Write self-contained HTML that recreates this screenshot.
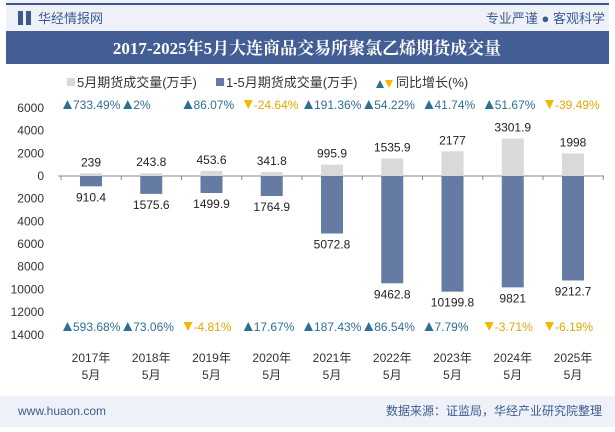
<!DOCTYPE html>
<html><head><meta charset="utf-8"><style>
body{margin:0;width:615px;height:427px;overflow:hidden;background:#fff;font-family:"Liberation Sans","Noto Sans CJK SC",sans-serif;}
</style></head><body>
<svg width="615" height="427" xmlns="http://www.w3.org/2000/svg" font-family="Liberation Sans, Noto Sans CJK SC, sans-serif">
<rect x="6" y="0" width="603" height="33" fill="#eef2f8"/>
<rect x="6" y="3" width="603" height="2" fill="#3d5a8f"/>
<rect x="18" y="11" width="5" height="14" fill="#3d5a8f"/><rect x="26" y="11" width="5" height="14" fill="#3d5a8f"/>
<text x="38" y="23" font-size="13" fill="#3d5a8f">华经情报网</text>
<text x="605" y="23" font-size="13" fill="#3d5a8f" text-anchor="end">专业严谨 ● 客观科学</text>
<rect x="6" y="31" width="603" height="33" fill="#435e94"/>
<text x="307" y="54" font-size="17" font-weight="bold" fill="#fff" text-anchor="middle" font-family="Liberation Serif, Noto Serif CJK SC, serif">2017-2025年5月大连商品交易所聚氯乙烯期货成交量</text>
<g font-size="13" fill="#333">
<rect x="67" y="78" width="8" height="8" fill="#d9d9d9"/><text x="77" y="87">5月期货成交量(万手)</text>
<rect x="216" y="78" width="8" height="8" fill="#667ba3"/><text x="226" y="87">1-5月期货成交量(万手)</text>
<path d="M376,88 l4,-8 l4,8z" fill="#2e6f94"/><path d="M385,80 l4,8 l4,-8z" fill="#f5b800"/><text x="396" y="87">同比增长(%)</text>
</g>
<g id="axis" font-size="12" fill="#333"></g>
<g id="plot"></g>
<rect x="0" y="396" width="615" height="31" fill="#eef2f8"/>
<text x="18" y="415" font-size="12" fill="#3d5a8f">www.huaon.com</text>
<text x="602" y="415" font-size="12" fill="#3d5a8f" text-anchor="end">数据来源：证监局，华经产业研究院整理</text>
</svg>
<script>
const categories=["2017年","2018年","2019年","2020年","2021年","2022年","2023年","2024年","2025年"];
const mayVolume=[239,243.8,453.6,341.8,995.9,1535.9,2177,3301.9,1998];
const ytdVolume=[910.4,1575.6,1499.9,1764.9,5072.8,9462.8,10199.8,9821,9212.7];
const mayGrowth=[733.49,2,86.07,-24.64,191.36,54.22,41.74,51.67,-39.49];
const ytdGrowth=[593.68,73.06,-4.81,17.67,187.43,86.54,7.79,-3.71,-6.19];
const yTicks=[6000,4000,2000,0,2000,4000,6000,8000,10000,12000,14000];
const NS="http://www.w3.org/2000/svg";
const y0=176, k=11.34/1000;
const yPos=v=>y0-v*k;
const xC=i=>91+i*60.25;
const plot=document.getElementById('plot'), axis=document.getElementById('axis');
function mk(tag,attrs,parent,text){const e=document.createElementNS(NS,tag);for(const a in attrs)e.setAttribute(a,attrs[a]);if(text!=null)e.textContent=text;parent.appendChild(e);return e;}
yTicks.forEach((t,i)=>{const v=i<3?t:-t;const e=mk('text',{x:44,y:yPos(v)+4,'text-anchor':'end'},axis,String(t));

});
const zl=mk('line',{x1:58,x2:604,y1:y0,y2:y0,stroke:'#888','stroke-width':1},axis);


for(let i=0;i<=9;i++){mk('line',{x1:61+i*60.25,x2:61+i*60.25,y1:y0,y2:y0+4,stroke:'#888'},axis);}
categories.forEach((c,i)=>{const x=xC(i);
const l1=mk('text',{x:x,y:362,'text-anchor':'middle','font-size':'12'},axis,c);


mk('text',{x:x,y:379,'text-anchor':'middle','font-size':'12'},axis,'5月');
const b1=mk('rect',{x:x-11,y:yPos(mayVolume[i]),width:22,height:mayVolume[i]*k,fill:'#d9d9d9'},plot);


const b2=mk('rect',{x:x-11,y:y0,width:22,height:ytdVolume[i]*k,fill:'#667ba3'},plot);


mk('text',{x:x,y:yPos(mayVolume[i])-7,'text-anchor':'middle','font-size':'12',fill:'#222'},plot,String(mayVolume[i]));
mk('text',{x:x,y:yPos(-ytdVolume[i])+15,'text-anchor':'middle','font-size':'12',fill:'#222'},plot,String(ytdVolume[i]));
[[mayGrowth[i],109],[ytdGrowth[i],331]].forEach(([g,yy])=>{
const up=g>=0;const col=up?'#2e6f94':'#f5b800';const sx=x-28;
mk('path',{d:up?`M${sx},${yy} l4.5,-9 l4.5,9z`:`M${sx},${yy-9} l4.5,9 l4.5,-9z`,fill:col},plot);
const gt=mk('text',{x:sx+10,y:yy,'font-size':'12',fill:up?'#2e6f94':'#e0a800'},plot,g.toFixed(2).replace(/\.00$/,'')+'%');

});
});
</script>
</body></html>
